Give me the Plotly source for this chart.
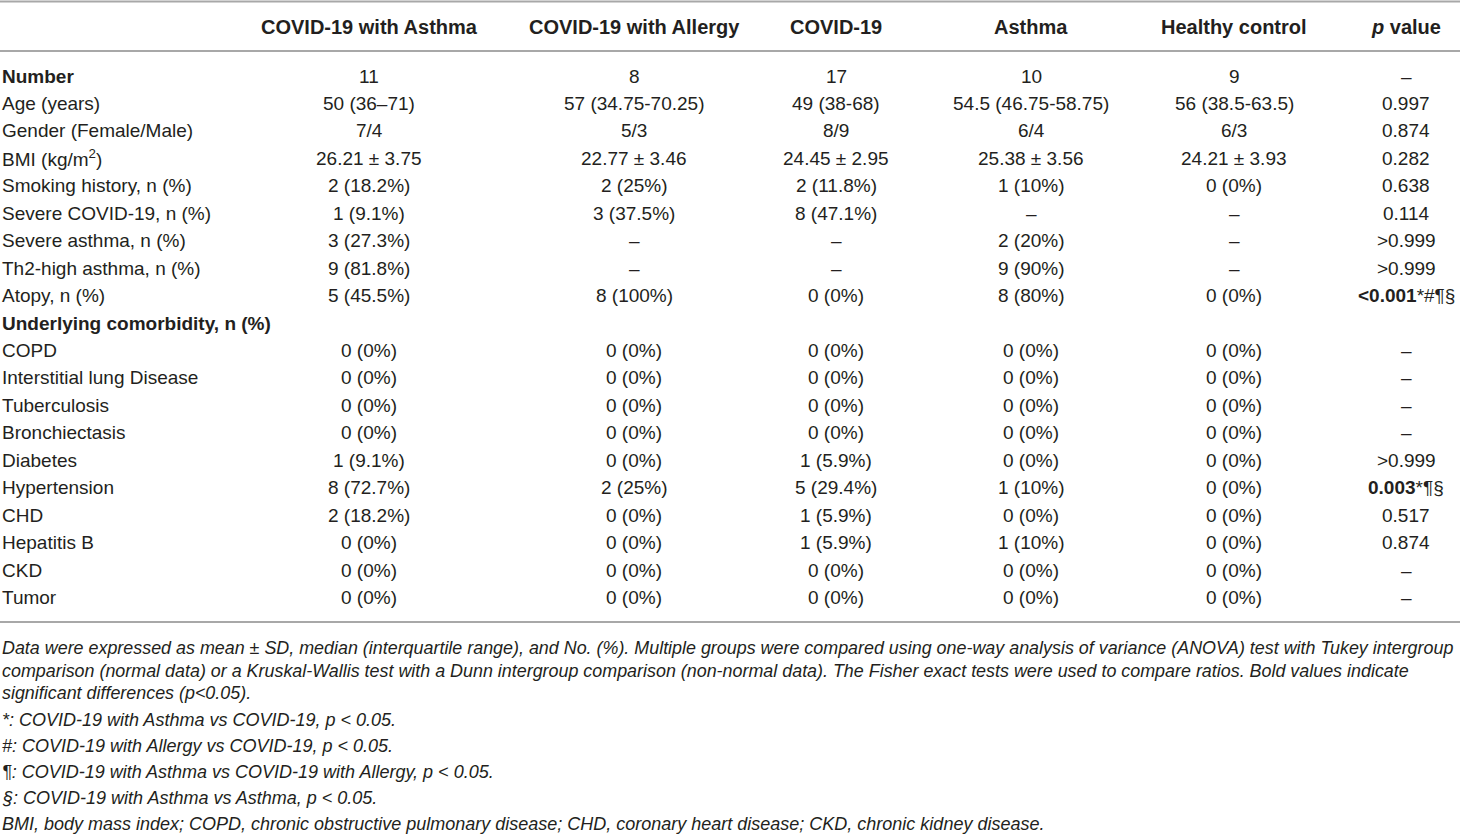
import plotly.graph_objects as go

columns = ["COVID-19 with Asthma", "COVID-19 with Allergy", "COVID-19", "Asthma", "Healthy control", "<i>p</i> value"]

row_labels = [
    "<b>Number</b>", "Age (years)", "Gender (Female/Male)", "BMI (kg/m<sup>2</sup>)",
    "Smoking history, n (%)", "Severe COVID-19, n (%)", "Severe asthma, n (%)",
    "Th2-high asthma, n (%)", "Atopy, n (%)", "<b>Underlying comorbidity, n (%)</b>",
    "COPD", "Interstitial lung Disease", "Tuberculosis", "Bronchiectasis", "Diabetes",
    "Hypertension", "CHD", "Hepatitis B", "CKD", "Tumor",
]

covid_asthma = ["11", "50 (36–71)", "7/4", "26.21 ± 3.75", "2 (18.2%)", "1 (9.1%)", "3 (27.3%)",
                "9 (81.8%)", "5 (45.5%)", "", "0 (0%)", "0 (0%)", "0 (0%)", "0 (0%)", "1 (9.1%)",
                "8 (72.7%)", "2 (18.2%)", "0 (0%)", "0 (0%)", "0 (0%)"]
covid_allergy = ["8", "57 (34.75-70.25)", "5/3", "22.77 ± 3.46", "2 (25%)", "3 (37.5%)", "–",
                 "–", "8 (100%)", "", "0 (0%)", "0 (0%)", "0 (0%)", "0 (0%)", "0 (0%)",
                 "2 (25%)", "0 (0%)", "0 (0%)", "0 (0%)", "0 (0%)"]
covid = ["17", "49 (38-68)", "8/9", "24.45 ± 2.95", "2 (11.8%)", "8 (47.1%)", "–",
         "–", "0 (0%)", "", "0 (0%)", "0 (0%)", "0 (0%)", "0 (0%)", "1 (5.9%)",
         "5 (29.4%)", "1 (5.9%)", "1 (5.9%)", "0 (0%)", "0 (0%)"]
asthma = ["10", "54.5 (46.75-58.75)", "6/4", "25.38 ± 3.56", "1 (10%)", "–", "2 (20%)",
          "9 (90%)", "8 (80%)", "", "0 (0%)", "0 (0%)", "0 (0%)", "0 (0%)", "0 (0%)",
          "1 (10%)", "0 (0%)", "1 (10%)", "0 (0%)", "0 (0%)"]
healthy = ["9", "56 (38.5-63.5)", "6/3", "24.21 ± 3.93", "0 (0%)", "–", "–",
           "–", "0 (0%)", "", "0 (0%)", "0 (0%)", "0 (0%)", "0 (0%)", "0 (0%)",
           "0 (0%)", "0 (0%)", "0 (0%)", "0 (0%)", "0 (0%)"]
p_values = ["–", "0.997", "0.874", "0.282", "0.638", "0.114", ">0.999",
            ">0.999", "<b>&lt;0.001</b>*#¶§", "", "–", "–", "–", "–", ">0.999",
            "<b>0.003</b>*¶§", "0.517", "0.874", "–", "–"]

notes_para = [
    "Data were expressed as mean ± SD, median (interquartile range), and No. (%). Multiple groups were compared using one-way analysis of variance (ANOVA) test with Tukey intergroup",
    "comparison (normal data) or a Kruskal-Wallis test with a Dunn intergroup comparison (non-normal data). The Fisher exact tests were used to compare ratios. Bold values indicate",
    "significant differences (p&lt;0.05).",
]
notes_list = [
    "*: COVID-19 with Asthma vs COVID-19, p &lt; 0.05.",
    "#: COVID-19 with Allergy vs COVID-19, p &lt; 0.05.",
    "¶: COVID-19 with Asthma vs COVID-19 with Allergy, p &lt; 0.05.",
    "§: COVID-19 with Asthma vs Asthma, p &lt; 0.05.",
    "BMI, body mass index; COPD, chronic obstructive pulmonary disease; CHD, coronary heart disease; CKD, chronic kidney disease.",
]

# layout geometry (pixels)
W, H = 1460, 835
col_x = [369, 634, 836, 1031, 1234, 1406]
header_y = 27
row_y0, row_dy = 76, 27.45
para_y0, para_dy = 648, 22.5
list_y0, list_dy = 720, 26
FONT = "Liberation Sans"
TXT = "#231f20"
RULE = "#a8a8a8"

fig = go.Figure()
ann = []
for cx, name in zip(col_x, columns):
    ann.append(dict(x=cx, y=header_y, text=f"<b>{name}</b>", xanchor="center", yanchor="middle",
                    font=dict(size=20, family=FONT, color=TXT)))

data_cols = [covid_asthma, covid_allergy, covid, asthma, healthy, p_values]
for i, lab in enumerate(row_labels):
    y = row_y0 + i * row_dy
    ann.append(dict(x=0, y=y, text=lab, xanchor="left", yanchor="middle",
                    font=dict(size=19, family=FONT, color=TXT)))
    for cx, col in zip(col_x, data_cols):
        if col[i]:
            ann.append(dict(x=cx, y=y, text=col[i], xanchor="center", yanchor="middle",
                            font=dict(size=19, family=FONT, color=TXT)))

for j, t in enumerate(notes_para):
    ann.append(dict(x=0, y=para_y0 + j * para_dy, text=f"<i>{t}</i>", xanchor="left", yanchor="middle",
                    font=dict(size=17.9, family=FONT, color=TXT)))
for j, t in enumerate(notes_list):
    ann.append(dict(x=0, y=list_y0 + j * list_dy, text=f"<i>{t}</i>", xanchor="left", yanchor="middle",
                    font=dict(size=18, family=FONT, color=TXT)))

for a in ann:
    a.update(xref="x", yref="y", showarrow=False)

shapes = [
    dict(type="line", xref="x", yref="y", x0=0, x1=W, y0=y, y1=y, line=dict(color=RULE, width=2))
    for y in (1.5, 51, 622)
]

fig.update_layout(
    width=W, height=H, margin=dict(l=0, r=0, t=0, b=0),
    paper_bgcolor="white", plot_bgcolor="white",
    xaxis=dict(range=[0, W], visible=False, fixedrange=True),
    yaxis=dict(range=[H, 0], visible=False, fixedrange=True),
    annotations=ann, shapes=shapes, showlegend=False,
)
fig.write_html("out.html", config={"displayModeBar": False},
               post_script="document.body.style.margin='0';document.body.style.overflow='hidden';")
